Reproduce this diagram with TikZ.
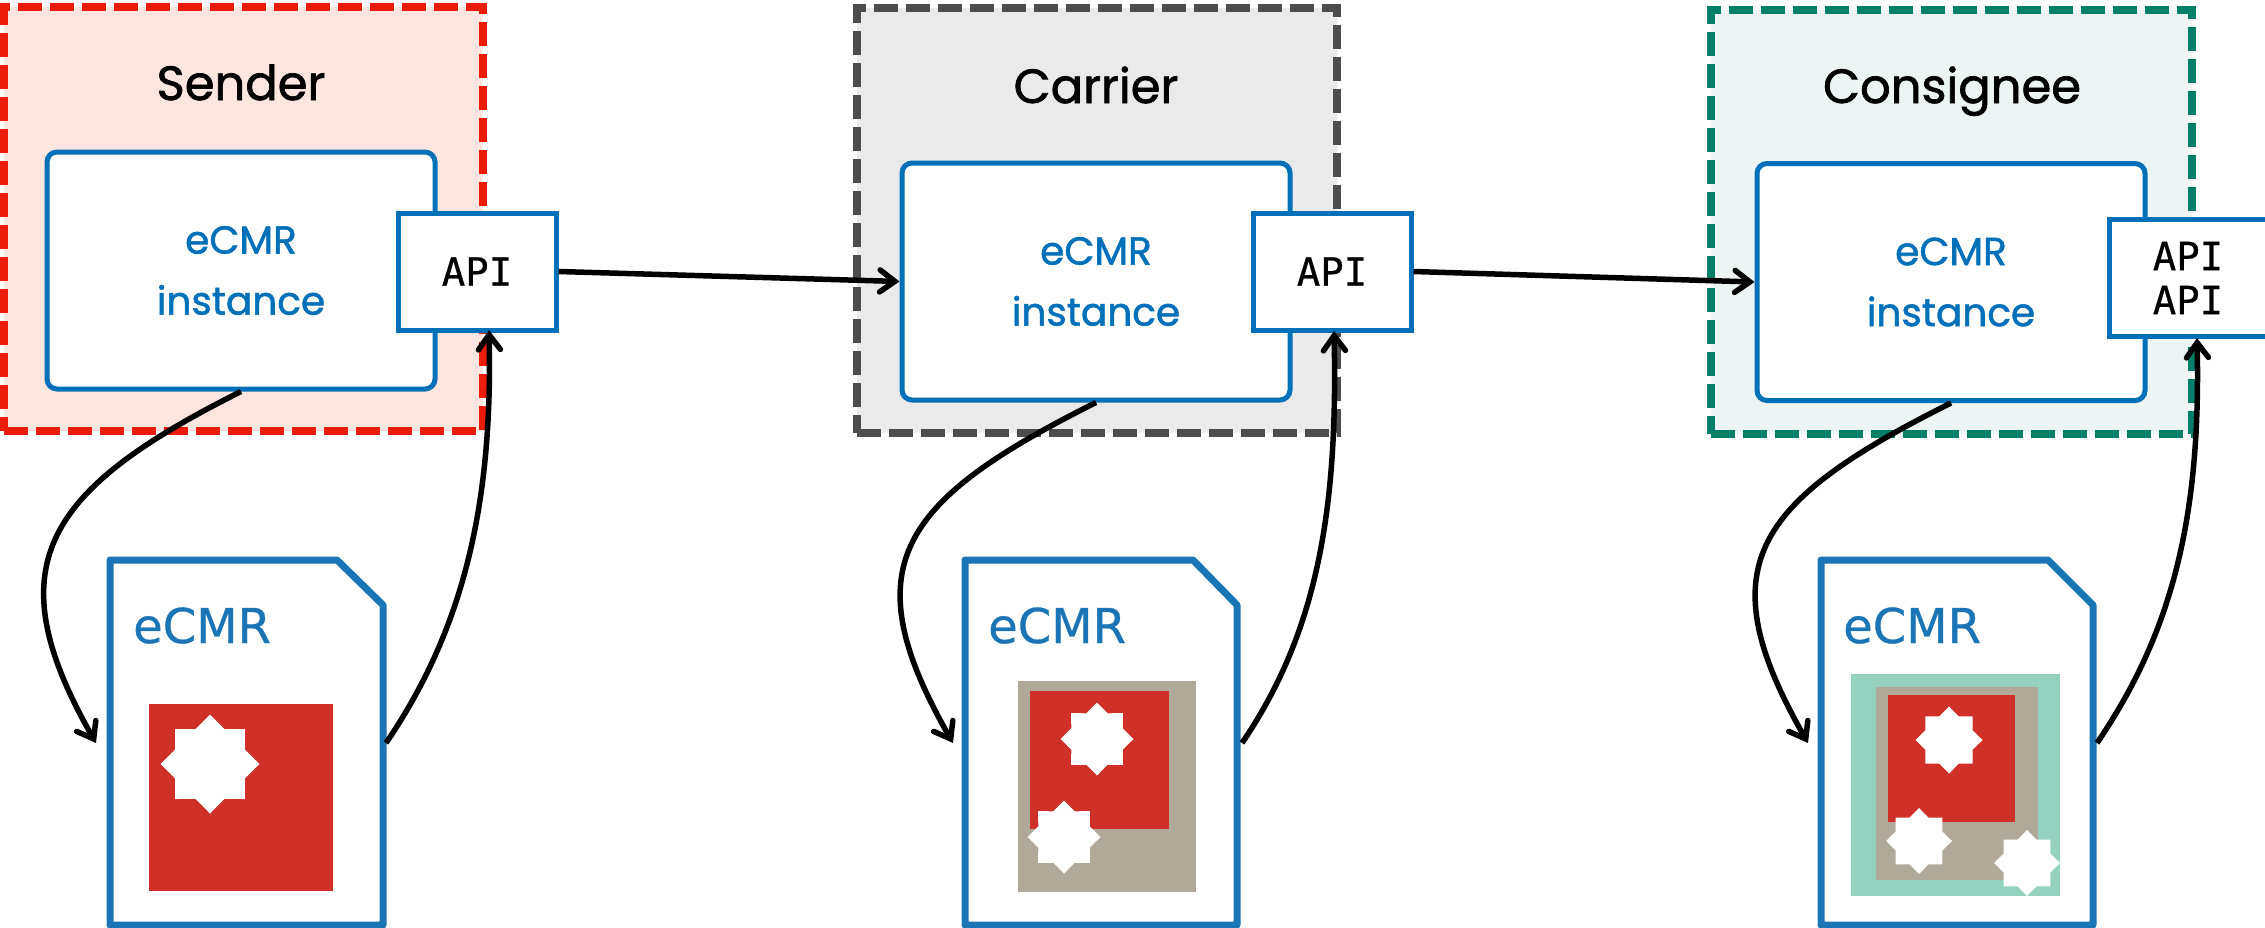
\documentclass[tikz,border=0pt]{standalone}
\usepackage{fontspec}
\setmainfont[FakeBold=1.4]{Poppins}
\newfontfamily\apifont[FakeBold=0.6]{DejaVu Sans Mono}
\newfontfamily\docfont[FakeBold=0.6]{DejaVu Sans}
\usetikzlibrary{shapes.geometric,arrows.meta}
\definecolor{senderred}{HTML}{EB1C0C}
\definecolor{senderbg}{HTML}{FDE6E0}
\definecolor{carriergrey}{HTML}{4D4D4D}
\definecolor{carrierbg}{HTML}{EAEAEA}
\definecolor{consigneegreen}{HTML}{008066}
\definecolor{consigneebg}{HTML}{ECF5F3}
\definecolor{instanceblue}{HTML}{0070B8}
\definecolor{docblue}{HTML}{1B75B4}
\definecolor{sealred}{HTML}{CF3027}
\definecolor{sealbeige}{HTML}{B0A999}
\definecolor{sealteal}{HTML}{94D1BF}
\tikzset{
  party/.style={draw=#1,rectangle,anchor=north west,line width=8pt,dash pattern=on 24pt off 8pt,inner sep=0pt},
  title/.style={anchor=base,font=\fontsize{48}{52}\selectfont},
  instance/.style={draw=instanceblue,fill=white,rectangle,rounded corners=10pt,line width=5pt,
    text=instanceblue,align=center,inner sep=0pt,minimum width=388pt,minimum height=237pt,
    font=\fontsize{39}{61}\selectfont},
  api/.style={draw=instanceblue,fill=white,rectangle,line width=5pt,align=center,inner sep=0pt,
    minimum width=158pt,minimum height=117pt,font=\apifont\fontsize{39}{44}\selectfont},
  doc/.style={draw=docblue,fill=white,line width=7pt,line join=round},
  doclabel/.style={anchor=base west,text=docblue,inner sep=0pt,font=\docfont\fontsize{48}{52}\selectfont},
  seal/.style={star,star points=8,star point ratio=1.31,fill=white,inner sep=0pt,outer sep=0pt,minimum size=#1},
  link/.style={line width=5.5pt,-{Straight Barb[length=15pt,width=22pt,line cap=round]}}
}
\begin{document}
\begin{tikzpicture}[x=1pt,y=-1pt]
  \useasboundingbox (0,0) rectangle (2265,927);
  % parties
  \node[party=senderred,fill=senderbg,minimum width=479pt,minimum height=424pt] (sender) at (0,3) {};
  \node[party=carriergrey,fill=carrierbg,minimum width=480pt,minimum height=425pt] (carrier) at (853,4) {};
  \node[party=consigneegreen,fill=consigneebg,minimum width=481pt,minimum height=424pt] (consignee) at (1707,6) {};
  \node[title] (sendertitle) at (241,100) {Sender};
  \node[title] (carriertitle) at (1096,103) {Carrier};
  \node[title] (consigneetitle) at (1952,103) {Consignee};
  % instances and APIs
  \node[instance] (senderinstance) at (241,270.5) {eCMR\\instance};
  \node[instance] (carrierinstance) at (1096,281.5) {eCMR\\instance};
  \node[instance] (consigneeinstance) at (1951,282) {eCMR\\instance};
  \node[api] (senderapi) at (477,271.5) {API};
  \node[api] (carrierapi) at (1332,271.5) {API};
  \node[api] (consigneeapi) at (2188,278) {API\\API};
  % documents
  \draw[doc] (110,925) -- (110,560) -- (337,560) -- (383,605) -- (383,925) -- cycle;
  \draw[doc] (965,925) -- (965,560) -- (1193,560) -- (1237,605) -- (1237,925) -- cycle;
  \draw[doc] (1821,925) -- (1821,560) -- (2048,560) -- (2093,605) -- (2093,925) -- cycle;
  \node[doclabel] (senderdoc) at (133,643) {eCMR};
  \node[doclabel] (carrierdoc) at (988,643) {eCMR};
  \node[doclabel] (consigneedoc) at (1843,643) {eCMR};
  % seals
  \fill[sealred] (149,704) rectangle (333,891);
  \node[seal=99pt] (senderseal) at (210,764) {};
  \fill[sealbeige] (1018,681) rectangle (1196,892);
  \fill[sealred] (1030,691) rectangle (1169,829);
  \node[seal=73pt] (carrierseala) at (1097,739) {};
  \node[seal=73pt] (carriersealb) at (1064,837) {};
  \fill[sealteal] (1851,674) rectangle (2060,896);
  \fill[sealbeige] (1876,687) rectangle (2038,880);
  \fill[sealred] (1888,695) rectangle (2015,822);
  \node[seal=67pt] (consigneeseala) at (1949,740) {};
  \node[seal=66pt] (consigneesealb) at (1919,841) {};
  \node[seal=66pt] (consigneesealc) at (2027,863) {};
  % connector ends
  \coordinate (senderin) at (96,743);
  \coordinate (senderout) at (386,743);
  \coordinate (carrierin) at (953,743);
  \coordinate (carrierout) at (1242,743);
  \coordinate (consigneein) at (1808,743);
  \coordinate (consigneeout) at (2097,743);
  \coordinate (senderup) at (489,330);
  \coordinate (carrierup) at (1334,331);
  \coordinate (consigneeup) at (2197,338);
  % connectors
  \draw[link] (senderapi.east) -- (carrierinstance.west);
  \draw[link] (carrierapi.east) -- (consigneeinstance.west);
  \draw[link] (senderinstance.south) .. controls +(-200,100) and +(-100,-175) .. (senderin);
  \draw[link] (carrierinstance.south) .. controls +(-200,100) and +(-100,-175) .. (carrierin);
  \draw[link] (consigneeinstance.south) .. controls +(-200,100) and +(-100,-175) .. (consigneein);
  \draw[link] (senderout) .. controls +(75,-110) and +(4,180) .. (senderup);
  \draw[link] (carrierout) .. controls +(75,-110) and +(4,180) .. (carrierup);
  \draw[link] (consigneeout) .. controls +(75,-110) and +(4,180) .. (consigneeup);
\end{tikzpicture}
\end{document}
